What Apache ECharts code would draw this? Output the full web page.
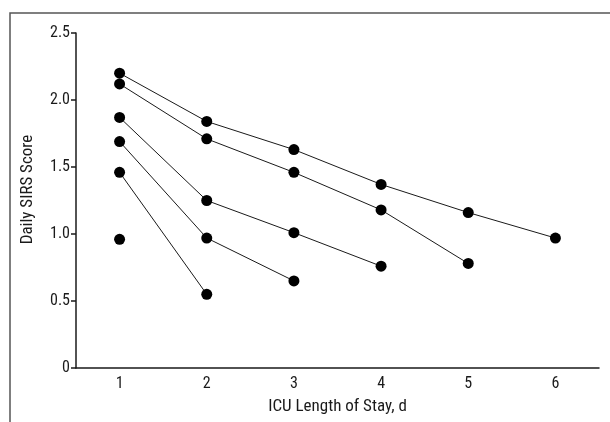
<!DOCTYPE html>
<html>
<head>
<meta charset="utf-8">
<script src="https://cdn.jsdelivr.net/npm/echarts@6/dist/echarts.min.js"></script>
<style>
  html, body { margin: 0; padding: 0; background: #fff; }
  #chart { width: 610px; height: 422px; }
</style>
</head>
<body>
<div id="chart"></div>
<script>
const days = ['1', '2', '3', '4', '5', '6']

// one line per ICU length of stay group (1 to 6 days)
const los1 = [0.96]
const los2 = [1.46, 0.55]
const los3 = [1.69, 0.97, 0.65]
const los4 = [1.87, 1.25, 1.01, 0.76]
const los5 = [2.12, 1.71, 1.46, 1.18, 0.78]
const los6 = [2.20, 1.84, 1.63, 1.37, 1.16, 0.97]

const yTicks = [0, 0.5, 1.0, 1.5, 2.0, 2.5]

const font = "'Liberation Sans Narrow', 'Arial Narrow', 'Roboto Condensed', sans-serif"
const ink = '#1a1a1a'

const makeSeries = values => ({
  type: 'line',
  data: values,
  symbol: 'circle',
  symbolSize: 11,
  lineStyle: { color: ink, width: 1 },
  itemStyle: { color: '#000' },
  animation: false
})

const chart = echarts.init(document.getElementById('chart'))
chart.setOption({
  backgroundColor: '#fff',
  grid: { left: 76, right: 11, top: 33, bottom: 54 },
  graphic: [{
    type: 'rect',
    shape: { x: 10, y: 13, width: 640, height: 450 },
    style: { fill: 'none', stroke: '#555', lineWidth: 1.5 },
    silent: true
  }],
  xAxis: {
    type: 'category',
    data: days,
    name: 'ICU Length of Stay, d',
    nameLocation: 'middle',
    nameGap: 30,
    nameTextStyle: { fontFamily: font, fontSize: 17, color: ink },
    axisLine: { lineStyle: { color: ink, width: 1.5 } },
    axisTick: { length: 5, lineStyle: { color: ink, width: 1.5 } },
    axisLabel: { fontFamily: font, fontSize: 16, color: ink, margin: 8 }
  },
  yAxis: {
    type: 'value',
    min: 0,
    max: 2.5,
    interval: 0.5,
    name: 'Daily SIRS Score',
    nameLocation: 'middle',
    nameGap: 40,
    nameTextStyle: { fontFamily: font, fontSize: 17, color: ink, padding: [0, 0, 0, 22] },
    splitLine: { show: false },
    axisLine: { show: true, lineStyle: { color: ink, width: 1.5 } },
    axisTick: { show: true, length: 5, lineStyle: { color: ink, width: 1.5 } },
    axisLabel: {
      fontFamily: font, fontSize: 16, color: ink, margin: 6,
      formatter: v => (yTicks.includes(v) && v !== 0 ? v.toFixed(1) : String(v))
    }
  },
  series: [los1, los2, los3, los4, los5, los6].map(makeSeries)
})
</script>
</body>
</html>
